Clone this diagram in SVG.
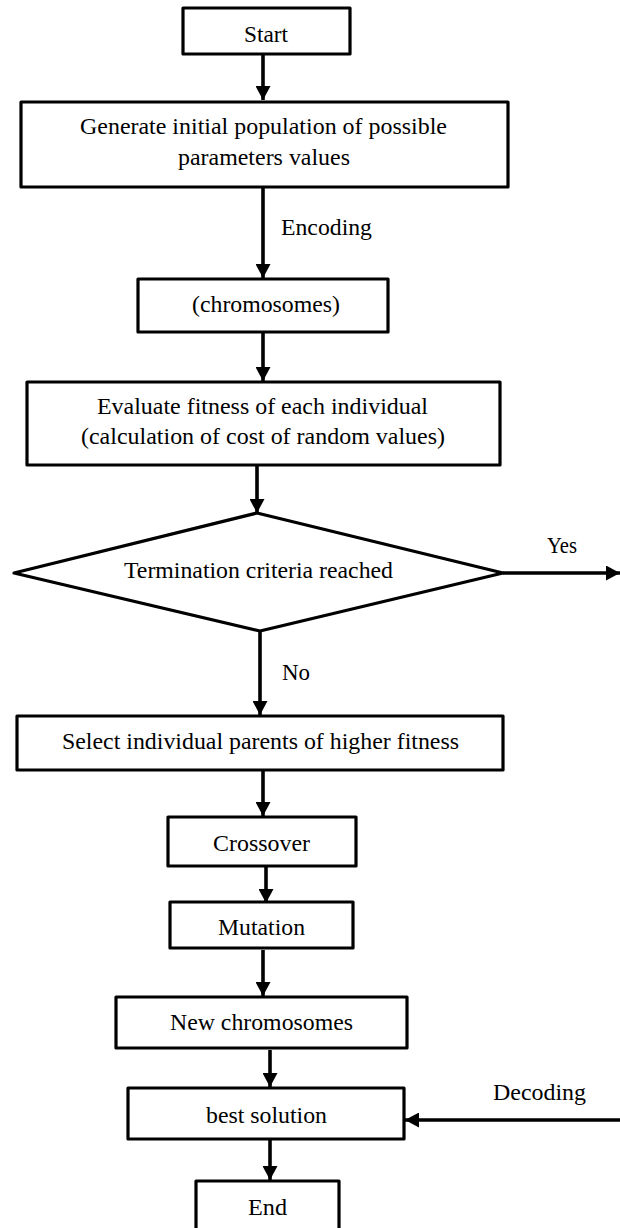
<svg xmlns="http://www.w3.org/2000/svg" width="620" height="1228" viewBox="0 0 620 1228">
<style>
.box{fill:#fff;stroke:#000;stroke-width:3.2;stroke-linejoin:round}
.t{font-family:"Liberation Serif","Times New Roman",serif;font-size:23.5px;fill:#000}
.c{text-anchor:middle}
.ln{stroke:#000;stroke-width:3.6;fill:none}
</style>
<defs>
<marker id="ah" markerUnits="userSpaceOnUse" markerWidth="15" markerHeight="15" refX="14" refY="7.5" orient="auto">
<path d="M0,0 L14,7.5 L0,15 z" fill="#000"/>
</marker>
</defs>
<rect width="620" height="1228" fill="#fff"/>
<g id="connectors">
<line class="ln" x1="263" y1="54" x2="263" y2="100" marker-end="url(#ah)"/>
<line class="ln" x1="263" y1="187" x2="263" y2="278" marker-end="url(#ah)"/>
<text class="t" x="281" y="235" textLength="91" lengthAdjust="spacingAndGlyphs">Encoding</text>
<line class="ln" x1="263" y1="332" x2="263" y2="381" marker-end="url(#ah)"/>
<line class="ln" x1="257" y1="465" x2="257" y2="513" marker-end="url(#ah)"/>
<line class="ln" x1="503" y1="573" x2="620" y2="573" marker-end="url(#ah)"/>
<text class="t" x="547" y="553" textLength="30" lengthAdjust="spacingAndGlyphs">Yes</text>
<line class="ln" x1="260" y1="631" x2="260" y2="715" marker-end="url(#ah)"/>
<text class="t" x="282" y="680" textLength="28" lengthAdjust="spacingAndGlyphs">No</text>
<line class="ln" x1="263" y1="770" x2="263" y2="816" marker-end="url(#ah)"/>
<line class="ln" x1="266" y1="866" x2="266" y2="903" marker-end="url(#ah)"/>
<line class="ln" x1="263" y1="950" x2="263" y2="996" marker-end="url(#ah)"/>
<line class="ln" x1="270" y1="1050" x2="270" y2="1087" marker-end="url(#ah)"/>
<line class="ln" x1="620" y1="1120" x2="405" y2="1120" marker-end="url(#ah)"/>
<text class="t" x="493" y="1100" textLength="93" lengthAdjust="spacingAndGlyphs">Decoding</text>
<line class="ln" x1="270" y1="1139" x2="270" y2="1180" marker-end="url(#ah)"/>
</g>
<g id="start">
<rect class="box" x="183" y="8" width="167" height="46"/>
<text class="t c" x="266" y="42" textLength="44" lengthAdjust="spacingAndGlyphs">Start</text>
</g>
<g id="generate">
<rect class="box" x="21" y="102" width="487" height="85"/>
<text class="t c" x="263.5" y="134" textLength="367" lengthAdjust="spacingAndGlyphs">Generate initial population of possible</text>
<text class="t c" x="264" y="165" textLength="172" lengthAdjust="spacingAndGlyphs">parameters values</text>
</g>
<g id="chromosomes">
<rect class="box" x="138" y="279" width="250" height="53"/>
<text class="t c" x="266" y="312" textLength="148" lengthAdjust="spacingAndGlyphs">(chromosomes)</text>
</g>
<g id="evaluate">
<rect class="box" x="27" y="382" width="473" height="83"/>
<text class="t c" x="262.5" y="414" textLength="331" lengthAdjust="spacingAndGlyphs">Evaluate fitness of each individual</text>
<text class="t c" x="263" y="444" textLength="364" lengthAdjust="spacingAndGlyphs">(calculation of cost of random values)</text>
</g>
<g id="termination">
<polygon class="box" points="257,513 503,573 260,631 14,573"/>
<text class="t c" x="258.5" y="578" textLength="269" lengthAdjust="spacingAndGlyphs">Termination criteria reached</text>
</g>
<g id="select">
<rect class="box" x="17" y="716" width="486" height="54"/>
<text class="t c" x="260.5" y="749" textLength="397" lengthAdjust="spacingAndGlyphs">Select individual parents of higher fitness</text>
</g>
<g id="crossover">
<rect class="box" x="168" y="817" width="188" height="49"/>
<text class="t c" x="261.5" y="851" textLength="97" lengthAdjust="spacingAndGlyphs">Crossover</text>
</g>
<g id="mutation">
<rect class="box" x="170" y="902" width="183" height="46"/>
<text class="t c" x="261.5" y="935" textLength="87" lengthAdjust="spacingAndGlyphs">Mutation</text>
</g>
<g id="newchrom">
<rect class="box" x="116" y="997" width="291" height="51"/>
<text class="t c" x="261.5" y="1030" textLength="183" lengthAdjust="spacingAndGlyphs">New chromosomes</text>
</g>
<g id="best">
<rect class="box" x="128" y="1088" width="276" height="51"/>
<text class="t c" x="266.5" y="1123" textLength="121" lengthAdjust="spacingAndGlyphs">best solution</text>
</g>
<g id="end">
<rect class="box" x="196" y="1181" width="143" height="60"/>
<text class="t c" x="267.5" y="1215" textLength="39" lengthAdjust="spacingAndGlyphs">End</text>
</g>
</svg>
